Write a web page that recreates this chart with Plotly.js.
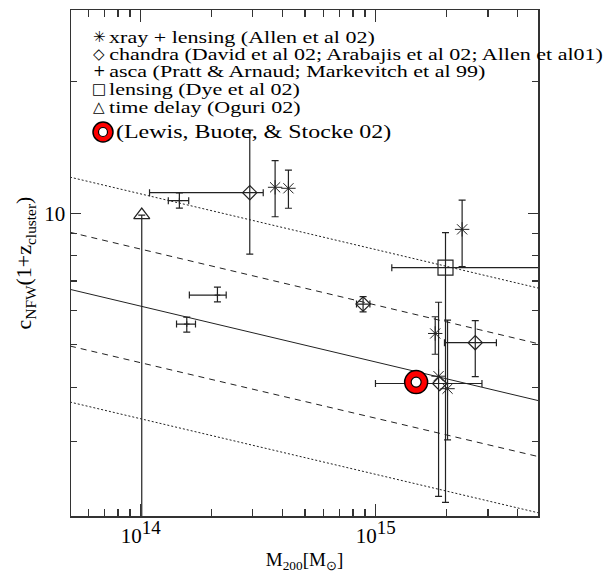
<!DOCTYPE html>
<html>
<head>
<meta charset="utf-8">
<script src="https://cdn.plot.ly/plotly-3.0.1.min.js"></script>
<style>
  html, body { margin: 0; padding: 0; background: #fff; }
  #plot { width: 613px; height: 576px; }
</style>
</head>
<body>
<div id="plot"></div>
<script>
// Cluster concentration vs. virial mass, c_NFW(1+z) against M200.

// xray + lensing (Allen et al 02)
const allenM   = [3.73e14, 4.25e14, 2.33e15, 1.79e15, 1.85e15, 2.02e15];
const allenC   = [11.47, 11.41, 9.19, 5.31, 4.24, 3.97];
const allenCLo = [9.82, 10.27, 7.55, 4.76, 2.25, 3.03];
const allenCHi = [13.2, 12.56, 10.72, 5.80, 6.26, 5.70];

// chandra (David et al 02; Arabajis et al 02; Allen et al 01)
const chandraM   = [2.91e14, 8.83e14, 2.65e15, 1.87e15];
const chandraMLo = [1.09e14, 8.28e14, 1.96e15, 9.97e14];
const chandraMHi = [3.32e14, 9.44e14, 3.26e15, 2.83e15];
const chandraC   = [11.15, 6.20, 5.06, 4.08];
const chandraCLo = [8.07, 5.95, 4.23, 4.08];
const chandraCHi = [15.5, 6.45, 5.68, 4.08];

// asca (Pratt & Arnaud; Markevitch et al 99)
const ascaM   = [1.46e14, 2.12e14, 1.57e14];
const ascaMLo = [1.31e14, 1.61e14, 1.42e14];
const ascaMHi = [1.60e14, 2.31e14, 1.71e14];
const ascaC   = [10.69, 6.50, 5.58];
const ascaCLo = [10.28, 6.27, 5.35];
const ascaCHi = [11.13, 6.78, 5.79];

// lensing (Dye et al 02)
const dyeM   = [1.98e15];
const dyeMLo = [1.17e15];
const dyeMHi = [6.0e15];
const dyeC   = [7.51];
const dyeCLo = [2.18];
const dyeCHi = [9.03];

// time delay (Oguri 02)
const oguriM   = [1.01e14];
const oguriC   = [9.91];
const oguriCLo = [1.5];

// Lewis, Buote & Stocke 02
const lewisM = [1.485e15];
const lewisC = [4.11];

// Model relation: median with 1σ and 2σ scatter
const lineM   = [5e13, 5e15];
const cMedian = [6.70, 3.72];
const c1sUp   = [9.05, 5.02];
const c1sDn   = [4.97, 2.77];
const c2sUp   = [12.1, 6.73];
const c2sDn   = [3.70, 2.06];

// Axis ticks
const xMajor = [1e14, 1e15];
const xMajorText = ['10<sup><span style="font-size:19px">14</span></sup>',
                    '10<sup><span style="font-size:19px">15</span></sup>'];
const xMinor = [6e13, 7e13, 8e13, 9e13, 2e14, 3e14, 4e14, 5e14, 6e14, 7e14, 8e14, 9e14, 2e15, 3e15, 4e15];
const yMajor = [10];
const yMajorText = ['10'];
const yMinor = [3, 4, 5, 6, 7, 8, 9, 20];

// Key entries
const keySymbols = ['\u2733', '\u25C7', '+', '\u25A1', '\u25B3'];
const keyLabels = [
  'xray + lensing (Allen et al 02)',
  'chandra (David et al 02; Arabajis et al 02; Allen et al01)',
  'asca (Pratt &amp; Arnaud; Markevitch et al 99)',
  'lensing (Dye et al 02)',
  'time delay (Oguri 02)'
];
const lewisLabel = '(Lewis, Buote, &amp; Stocke 02)';

const ink = '#222';
const serif = '"Liberation Serif", "Times New Roman", serif';
const diff = (a, b) => a.map((v, i) => v - b[i]);

function errY(c, lo, hi) {
  return { type: 'data', symmetric: false, array: diff(hi, c), arrayminus: diff(c, lo),
           color: ink, thickness: 1.2, width: 3.5 };
}
function errX(m, lo, hi) {
  return { type: 'data', symmetric: false, array: diff(hi, m), arrayminus: diff(m, lo),
           color: ink, thickness: 1.2, width: 3.5 };
}

const relLine = (y, dash) => ({
  x: lineM, y: y, mode: 'lines', hoverinfo: 'skip',
  line: { color: ink, width: 1, dash: dash }
});

const traces = [
  relLine(c2sUp, '2px,2px'),
  relLine(c2sDn, '2px,2px'),
  relLine(c1sUp, '6px,5px'),
  relLine(c1sDn, '6px,5px'),
  relLine(cMedian, 'solid'),
  { x: oguriM, y: oguriC, mode: 'markers',
    error_y: errY(oguriC, oguriCLo, oguriC),
    marker: { symbol: 'triangle-up-open', size: 14, color: ink, line: { width: 1.2, color: ink } } },
  { x: ascaM, y: ascaC, mode: 'markers',
    error_x: errX(ascaM, ascaMLo, ascaMHi), error_y: errY(ascaC, ascaCLo, ascaCHi),
    marker: { symbol: 'cross-thin-open', size: 4, color: ink, line: { width: 1, color: ink } } },
  { x: dyeM, y: dyeC, mode: 'markers',
    error_x: errX(dyeM, dyeMLo, dyeMHi), error_y: errY(dyeC, dyeCLo, dyeCHi),
    marker: { symbol: 'square-open', size: 15, color: ink, line: { width: 1.2, color: ink } } },
  { x: chandraM, y: chandraC, mode: 'markers',
    error_x: errX(chandraM, chandraMLo, chandraMHi), error_y: errY(chandraC, chandraCLo, chandraCHi),
    marker: { symbol: 'diamond-open', size: 11, color: ink, line: { width: 1.2, color: ink } } },
  { x: allenM, y: allenC, mode: 'markers',
    error_y: errY(allenC, allenCLo, allenCHi),
    marker: { symbol: 'asterisk-open', size: 12, color: ink, line: { width: 1, color: ink } } },
  // red ring: filled disc with a white centre
  { x: lewisM, y: lewisC, mode: 'markers',
    marker: { symbol: 'circle', size: 23, color: '#ff0000', line: { width: 1.5, color: '#000' } } },
  { x: lewisM, y: lewisC, mode: 'markers',
    marker: { symbol: 'circle', size: 10, color: '#ffffff', line: { width: 1.2, color: '#000' } } },
  // invisible carrier so the top/right tick axes get drawn
  { x: lineM, y: cMedian, xaxis: 'x2', yaxis: 'y2', mode: 'lines', hoverinfo: 'skip',
    line: { color: 'rgba(0,0,0,0)', width: 0 } }
];

// plot frame in pixels
const L = 71, R = 538, T = 10, B = 516;
const px = x => (x - L) / (R - L);
const py = y => (B - y) / (B - T);

// key text is set in a wide serif: drawn smaller, then stretched sideways
const keyStretch = 1.26;
const keyRowsY = [37, 54, 71, 89, 107];
const keyFont = { family: serif, size: 17.5, color: '#000' };
const annotations = [];
const stretched = [];
keyLabels.forEach((t, i) => {
  annotations.push({ xref: 'paper', yref: 'paper', x: px(99), y: py(keyRowsY[i]),
    text: keySymbols[i], showarrow: false, xanchor: 'center', yanchor: 'middle',
    font: { family: 'DejaVu Sans', size: 15, color: '#000' } });
  stretched.push(annotations.length);
  annotations.push({ xref: 'paper', yref: 'paper', x: px(107), y: py(keyRowsY[i]),
    text: t, showarrow: false, xanchor: 'left', yanchor: 'middle', font: keyFont });
});
const lewisRowY = 132;
stretched.push(annotations.length);
annotations.push({ xref: 'paper', yref: 'paper', x: px(114), y: py(lewisRowY),
  text: lewisLabel, showarrow: false, xanchor: 'left', yanchor: 'middle',
  font: { family: serif, size: 19, color: '#000' } });

const shapes = [
  { type: 'circle', xref: 'paper', yref: 'paper', xsizemode: 'pixel', ysizemode: 'pixel',
    xanchor: px(103), yanchor: py(lewisRowY), x0: -10, x1: 10, y0: -10, y1: 10,
    fillcolor: '#ff0000', line: { color: '#000', width: 1.5 } },
  { type: 'circle', xref: 'paper', yref: 'paper', xsizemode: 'pixel', ysizemode: 'pixel',
    xanchor: px(103), yanchor: py(lewisRowY), x0: -4.5, x1: 4.5, y0: -4.5, y1: 4.5,
    fillcolor: '#ffffff', line: { color: '#000', width: 1.2 } }
];

const axisFont = { family: serif, size: 21, color: '#000' };
const xRange = [Math.log10(5.05e13), Math.log10(4.9e15)];
const yRange = [0.3075, 1.4652];

const tickStyle = { ticks: 'inside', tickwidth: 1.2, tickcolor: '#333' };
const minorStyle = { tickmode: 'array', ticks: 'inside', tickwidth: 1.2, tickcolor: '#333', showgrid: false };

const layout = {
  width: 613, height: 576,
  margin: { l: L, r: 613 - R, t: T, b: 576 - B, pad: 0 },
  paper_bgcolor: '#fff', plot_bgcolor: '#fff',
  showlegend: false,
  font: { family: serif, color: '#000' },
  xaxis: Object.assign({
    type: 'log', range: xRange,
    showgrid: false, zeroline: false,
    showline: true, linecolor: '#333', linewidth: 1.5, mirror: true,
    ticklen: 12,
    tickmode: 'array', tickvals: xMajor, ticktext: xMajorText, tickfont: axisFont,
    minor: Object.assign({ tickvals: xMinor, ticklen: 7 }, minorStyle),
    title: { text: 'M<sub>200</sub>[M<sub>\u2299</sub>]', font: { family: serif, size: 19, color: '#000' }, standoff: 6 }
  }, tickStyle),
  yaxis: Object.assign({
    type: 'log', range: yRange,
    showgrid: false, zeroline: false,
    showline: true, linecolor: '#333', linewidth: 1.5, mirror: true,
    ticklen: 10,
    tickmode: 'array', tickvals: yMajor, ticktext: yMajorText, tickfont: axisFont,
    minor: Object.assign({ tickvals: yMinor, ticklen: 6 }, minorStyle),
    title: { text: 'c<sub>NFW</sub>(1+z<sub>cluster</sub>)', font: { family: serif, size: 22, color: '#000' }, standoff: 6 }
  }, tickStyle),
  // tick marks repeated along the top and right edges of the frame
  xaxis2: Object.assign({
    type: 'log', range: xRange, overlaying: 'x', anchor: 'y2', side: 'top',
    showgrid: false, zeroline: false, showline: false, showticklabels: false,
    ticklen: 12, tickmode: 'array', tickvals: xMajor,
    minor: Object.assign({ tickvals: xMinor, ticklen: 7 }, minorStyle)
  }, tickStyle),
  yaxis2: Object.assign({
    type: 'log', range: yRange, overlaying: 'y', anchor: 'x2', side: 'right',
    showgrid: false, zeroline: false, showline: false, showticklabels: false,
    ticklen: 10, tickmode: 'array', tickvals: yMajor,
    minor: Object.assign({ tickvals: yMinor, ticklen: 6 }, minorStyle)
  }, tickStyle),
  annotations: annotations,
  shapes: shapes
};

Plotly.newPlot('plot', traces, layout, { staticPlot: true, displayModeBar: false }).then(gd => {
  // widen the key text about its left edge
  stretched.forEach(i => {
    const t = gd.querySelector('g.annotation[data-index="' + i + '"] text.annotation-text');
    if (!t) return;
    const bx = t.getBBox().x;
    t.setAttribute('transform', 'translate(' + (bx * (1 - keyStretch)) + ',0) scale(' + keyStretch + ',1)');
  });
});
</script>
</body>
</html>
